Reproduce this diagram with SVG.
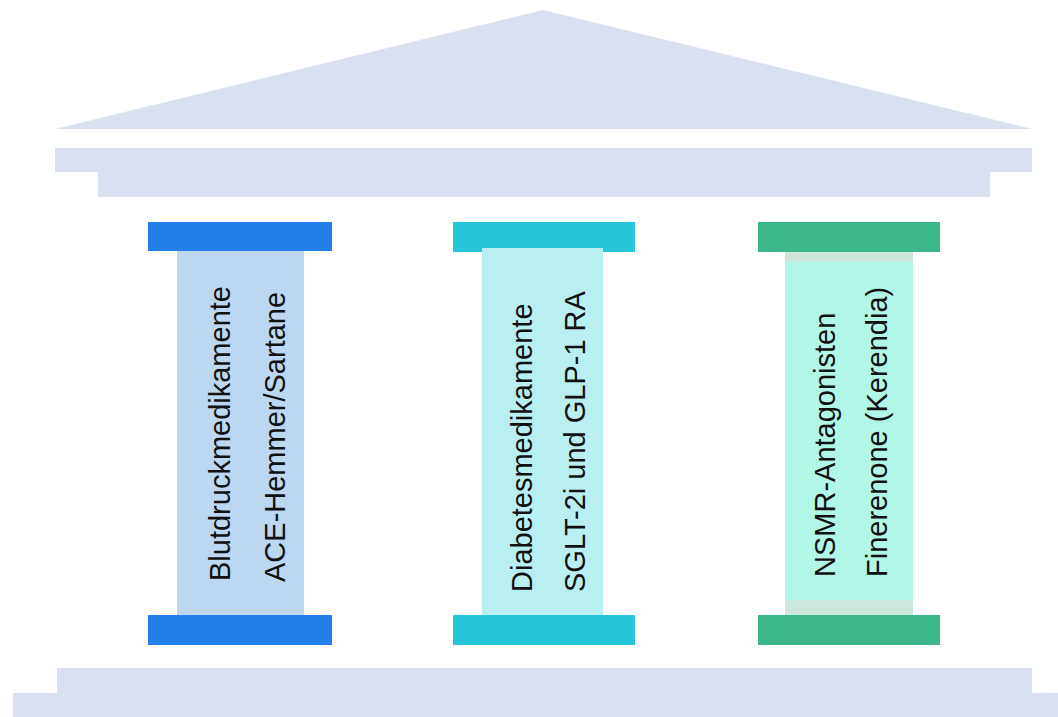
<svg xmlns="http://www.w3.org/2000/svg" width="1058" height="717" viewBox="0 0 1058 717">
  <style>
    .stone { fill: #d9e1f1; }
    .label { font-family: "Liberation Sans", Arial, sans-serif; font-size: 29px; fill: #111111; }
    .blue-cap { fill: #2280e8; }
    .blue-shaft { fill: #bdd7f1; }
    .cyan-cap { fill: #27c5d9; }
    .cyan-shaft { fill: #b8f0f2; }
    .green-cap { fill: #3bb88a; }
    .green-shaft { fill: #b1f7e7; }
    .green-band { fill: #cce6db; }
  </style>

  <rect width="1058" height="717" fill="#ffffff"/>

  <!-- Roof and entablature -->
  <g id="roof">
    <polygon class="stone" points="543,10 1032,129 55,129"/>
    <rect class="stone" x="55" y="148" width="977" height="24"/>
    <rect class="stone" x="98" y="171" width="892" height="26"/>
  </g>

  <!-- Pillar 1: blood pressure -->
  <g id="pillar-blutdruck">
    <rect class="blue-shaft" x="177" y="250" width="127" height="366"/>
    <rect class="blue-cap" x="148" y="222" width="184" height="29"/>
    <rect class="blue-cap" x="148" y="615" width="184" height="30"/>
    <text class="label" transform="translate(230,581) rotate(-90)">Blutdruckmedikamente</text>
    <text class="label" transform="translate(285,582) rotate(-90)">ACE-Hemmer/Sartane</text>
  </g>

  <!-- Pillar 2: diabetes -->
  <g id="pillar-diabetes">
    <rect class="cyan-cap" x="453" y="222" width="182" height="30"/>
    <rect class="cyan-shaft" x="482" y="248" width="121" height="368"/>
    <rect class="cyan-cap" x="453" y="615" width="182" height="30"/>
    <text class="label" transform="translate(532,592) rotate(-90)">Diabetesmedikamente</text>
    <text class="label" transform="translate(585,592) rotate(-90)">SGLT-2i und GLP-1 RA</text>
  </g>

  <!-- Pillar 3: NSMR antagonists -->
  <g id="pillar-nsmr">
    <rect class="green-band" x="785" y="251" width="128" height="364"/>
    <rect class="green-shaft" x="785" y="262" width="128" height="338"/>
    <rect class="green-cap" x="758" y="222" width="182" height="30"/>
    <rect class="green-cap" x="758" y="615" width="182" height="30"/>
    <text class="label" transform="translate(835,577) rotate(-90)">NSMR-Antagonisten</text>
    <text class="label" transform="translate(887,577) rotate(-90)">Finerenone (Kerendia)</text>
  </g>

  <!-- Stepped base -->
  <g id="base">
    <rect class="stone" x="57" y="668" width="975" height="26"/>
    <rect class="stone" x="13" y="693" width="1045" height="24"/>
  </g>
</svg>
